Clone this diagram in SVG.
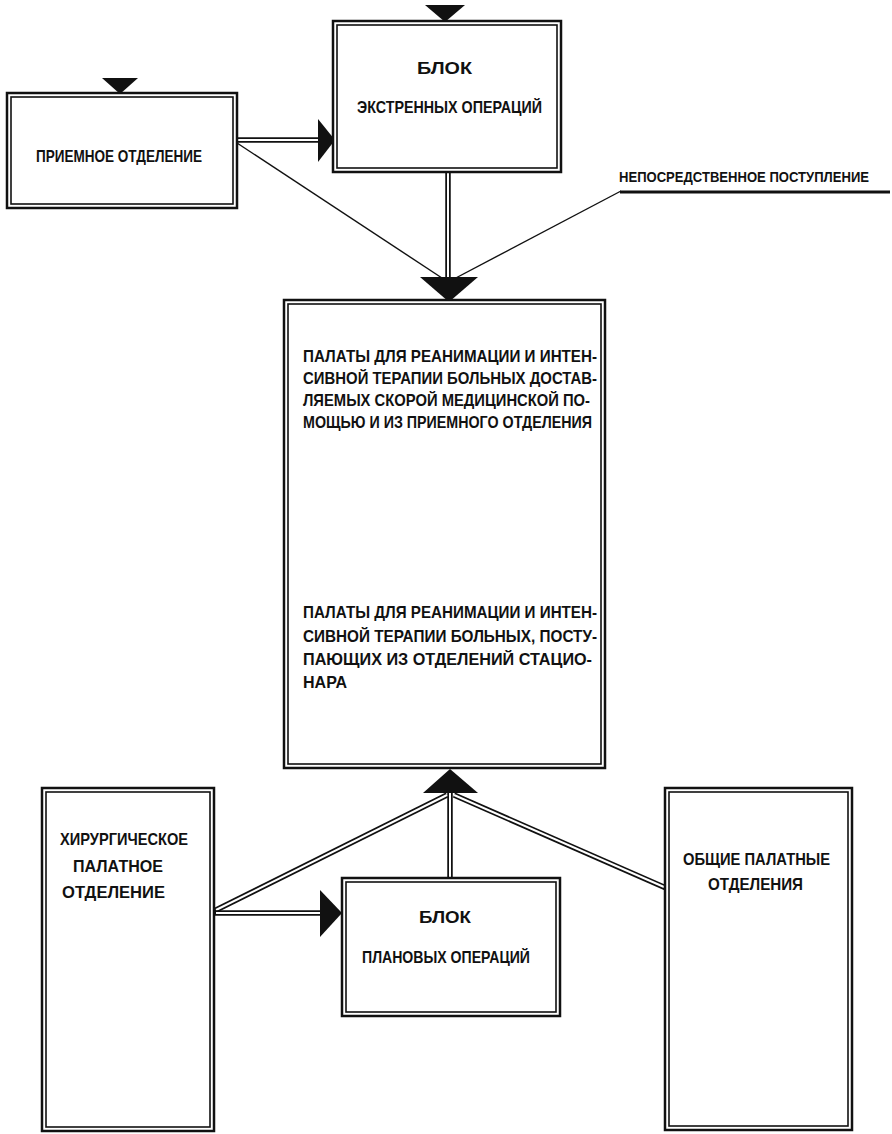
<svg xmlns="http://www.w3.org/2000/svg" width="892" height="1134" viewBox="0 0 892 1134">
<style>
.bo{fill:#fff;stroke:#111;stroke-width:2.5}
.bi{fill:none;stroke:#111;stroke-width:1.6}
.t{font-family:"Liberation Sans","DejaVu Sans Condensed",sans-serif;font-weight:bold;fill:#111;text-transform:uppercase;font-size:17px}
.dl1{stroke:#111;stroke-width:5.5;fill:none}
.dl2{stroke:#fff;stroke-width:2;fill:none}
.thin{stroke:#111;stroke-width:1.4;fill:none}
.tri{fill:#111}
</style>
<rect width="892" height="1134" fill="#fff"/>
<g id="connectors">
  <path class="dl1" d="M236,140 H322"/><path class="dl2" d="M234,140 H322"/>
  <polygon class="tri" points="318,119 335,140 318,162"/>
  <line class="thin" x1="237" y1="143" x2="445" y2="280"/>
  <path class="dl1" d="M448,171 V280"/><path class="dl2" d="M448,173 V280"/>
  <line class="thin" x1="621" y1="191" x2="452" y2="280"/>
  <line x1="620" y1="192" x2="890" y2="192" stroke="#111" stroke-width="3"/>
  <polygon class="tri" points="420,277 478,277 449,302"/>
  <polygon class="tri" points="102,78 138,78 120,94"/>
  <polygon class="tri" points="425,5 465,5 445,22"/>
  <path class="dl1" d="M450,790 V879"/><path class="dl2" d="M450,790 V880"/>
  <path class="dl1" d="M447,795 L214,911"/><path class="dl2" d="M447,795 L216,910"/>
  <path class="dl1" d="M454,795 L666,888"/><path class="dl2" d="M454,795 L664,887"/>
  <path class="dl1" d="M214,913 H324"/><path class="dl2" d="M216,913 H324"/>
  <polygon class="tri" points="320,890 342,913 320,937"/>
  <polygon class="tri" points="423,793 478,793 450,769"/>
</g>
<g id="priemnoe">
  <rect class="bo" x="7" y="93" width="230" height="115"/>
  <rect class="bi" x="11" y="97" width="222" height="107"/>
  <text class="t" x="36" y="162" textLength="166" lengthAdjust="spacingAndGlyphs">Приемное отделение</text>
</g>
<g id="ekstr">
  <rect class="bo" x="333" y="21" width="228" height="151"/>
  <rect class="bi" x="337" y="25" width="220" height="143"/>
  <text class="t" x="417" y="74" textLength="55" lengthAdjust="spacingAndGlyphs">Блок</text>
  <text class="t" x="357" y="113" textLength="185" lengthAdjust="spacingAndGlyphs">экстренных операций</text>
</g>
<g id="postuplenie">
  <text class="t" x="619" y="182" style="font-size:14px" textLength="250" lengthAdjust="spacingAndGlyphs">Непосредственное поступление</text>
</g>
<g id="center">
  <rect class="bo" x="284" y="300" width="321" height="468"/>
  <rect class="bi" x="288" y="304" width="313" height="460"/>
  <text class="t" x="303" y="362" textLength="294" lengthAdjust="spacingAndGlyphs">Палаты для реанимации и интен-</text>
  <text class="t" x="303" y="384" textLength="294" lengthAdjust="spacingAndGlyphs">сивной терапии больных достав-</text>
  <text class="t" x="303" y="406" textLength="287" lengthAdjust="spacingAndGlyphs">ляемых скорой медицинской по-</text>
  <text class="t" x="303" y="428" textLength="289" lengthAdjust="spacingAndGlyphs">мощью и из приемного отделения</text>
  <text class="t" x="303" y="618" textLength="294" lengthAdjust="spacingAndGlyphs">Палаты для реанимации и интен-</text>
  <text class="t" x="303" y="642" textLength="294" lengthAdjust="spacingAndGlyphs">сивной терапии больных, посту-</text>
  <text class="t" x="303" y="665" textLength="289" lengthAdjust="spacingAndGlyphs">пающих из отделений  стацио-</text>
  <text class="t" x="303" y="688" textLength="44" lengthAdjust="spacingAndGlyphs">нара</text>
</g>
<g id="hirurg">
  <rect class="bo" x="42" y="788" width="172" height="343"/>
  <rect class="bi" x="46" y="792" width="164" height="335"/>
  <text class="t" x="60" y="845" textLength="128" lengthAdjust="spacingAndGlyphs">Хирургическое</text>
  <text class="t" x="73" y="872" textLength="90" lengthAdjust="spacingAndGlyphs">палатное</text>
  <text class="t" x="62" y="898" textLength="103" lengthAdjust="spacingAndGlyphs">отделение</text>
</g>
<g id="planov">
  <rect class="bo" x="342" y="878" width="218" height="138"/>
  <rect class="bi" x="346" y="882" width="210" height="130"/>
  <text class="t" x="419" y="923" textLength="52" lengthAdjust="spacingAndGlyphs">Блок</text>
  <text class="t" x="362" y="963" textLength="168" lengthAdjust="spacingAndGlyphs">плановых операций</text>
</g>
<g id="obshie">
  <rect class="bo" x="665" y="788" width="187" height="342"/>
  <rect class="bi" x="669" y="792" width="179" height="334"/>
  <text class="t" x="683" y="865" textLength="147" lengthAdjust="spacingAndGlyphs">Общие палатные</text>
  <text class="t" x="708" y="890" textLength="95" lengthAdjust="spacingAndGlyphs">отделения</text>
</g>
</svg>
